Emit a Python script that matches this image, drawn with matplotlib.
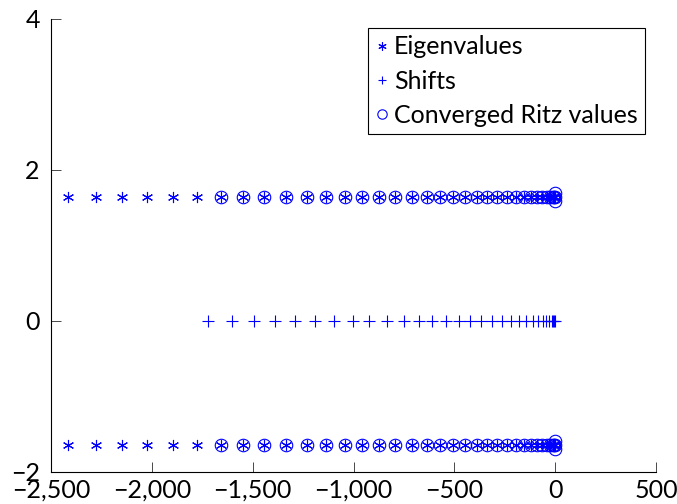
import matplotlib
matplotlib.use('Agg')
import matplotlib.pyplot as plt
from matplotlib.ticker import FuncFormatter

plt.rcParams['font.family'] = ['Lato', 'DejaVu Sans']

# real parts of the spectrum, imaginary parts are +/- eig_im
eig_re = [-2414, -2277, -2149, -2022, -1893, -1777, -1657, -1549, -1442, -1334,
          -1232, -1136, -1045, -956, -872, -794, -711, -636, -570, -507,
          -446, -388, -337, -288, -240, -196, -156, -122, -89, -64,
          -42, -25, -12, -5, 0]
eig_im = 1.64

shift_re = [-1720, -1604, -1493, -1389, -1290, -1190, -1095, -1003, -923, -832,
            -752, -678, -609, -542, -480, -422, -369, -314, -264, -220,
            -182, -145, -113, -86, -63, -45, -30, -18, -11, -6, 0]

ritz_re = eig_re[6:] + [0, 0]
ritz_im = [eig_im] * 29 + [1.59, 1.69]

blue = (0, 0, 1)

fig = plt.figure(figsize=(6.77, 5.04), dpi=100)
ax = fig.add_axes([0.0753, 0.0635, 0.894, 0.899])

star = (6, 2, 0)
ax.plot(eig_re + eig_re, [eig_im] * len(eig_re) + [-eig_im] * len(eig_re),
        ls='none', marker=star, ms=8, mew=0.8, color=blue, label='Eigenvalues')
ax.plot(shift_re, [0] * len(shift_re), ls='none', marker='+', ms=8, mew=0.8,
        color=blue, label='Shifts')
ax.plot(ritz_re + ritz_re, ritz_im + [-v for v in ritz_im], ls='none', marker='o',
        ms=9, mew=0.8, mfc='none', color=blue, label='Converged Ritz values')

ax.set_xlim(-2500, 500)
ax.set_ylim(-2, 4)
ax.set_xticks([-2500, -2000, -1500, -1000, -500, 0, 500])
ax.set_yticks([-2, 0, 2, 4])

def fmt(v, pos):
    s = f'{abs(int(v)):,}'
    return ('\u2212' + s) if v < 0 else s

ax.xaxis.set_major_formatter(FuncFormatter(fmt))
ax.yaxis.set_major_formatter(FuncFormatter(fmt))
for side in ('top', 'right'):
    ax.spines[side].set_visible(False)
for side in ('left', 'bottom'):
    ax.spines[side].set_linewidth(0.8)
ax.tick_params(direction='in', length=7, width=0.5, labelsize=18)
ax.tick_params(axis='x', pad=5)
ax.tick_params(axis='y', pad=8)

leg = ax.legend(loc='upper right', bbox_to_anchor=(0.982, 0.98), fontsize=18,
                borderaxespad=0, handlelength=0.5, handletextpad=0.25,
                borderpad=0.3, labelspacing=0.45, fancybox=False, framealpha=1,
                edgecolor='black', markerscale=0.75)
leg.get_frame().set_linewidth(0.8)

fig.savefig('out.png', dpi=100)
